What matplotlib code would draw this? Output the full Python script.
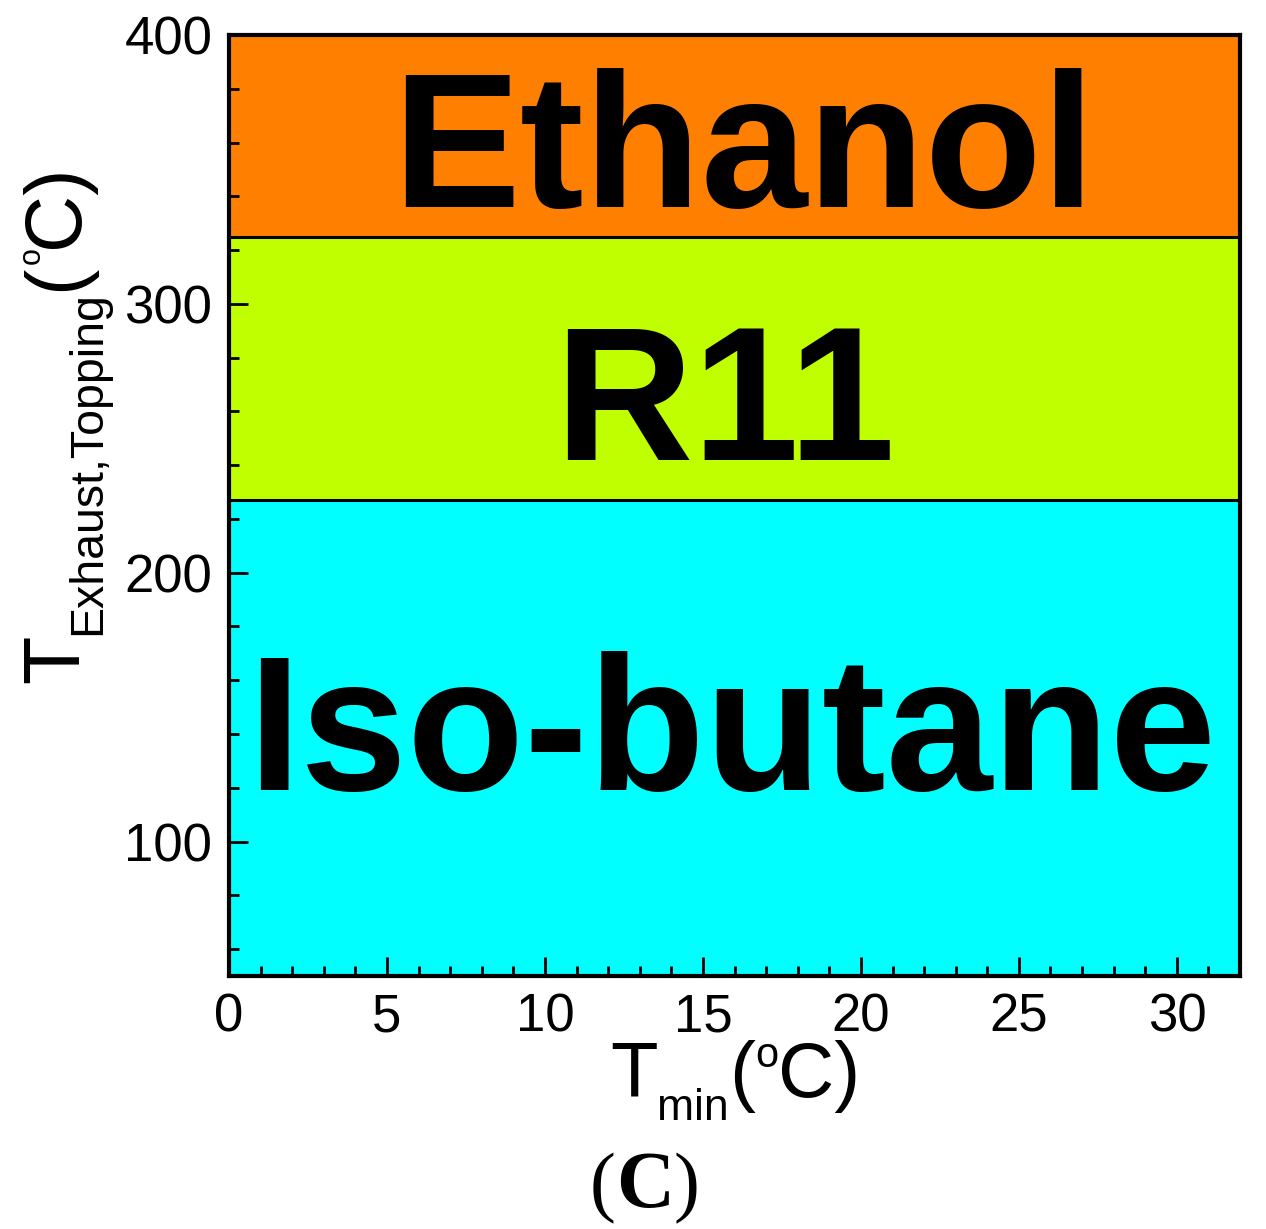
import numpy as np
import matplotlib
matplotlib.use('Agg')
from matplotlib import pyplot as plt
from matplotlib.ticker import MultipleLocator

plt.rcParams['font.family'] = ['Liberation Sans', 'DejaVu Sans']

# regions of best working fluid
fluids = ['Iso-butane', 'R11', 'Ethanol']
band_lo = [50, 227, 325]
band_hi = [227, 325, 400]
band_colors = ['#00FFFF', '#BFFF00', '#FF8000']
label_y = [119, 242, 336]
label_x = [15.9, 15.7, 16.3]

xmin, xmax = 0, 32
ymin, ymax = 50, 400

W, H = 1266, 1229
fig = plt.figure(figsize=(W / 100, H / 100), dpi=100)
ax = fig.add_axes([0.1809, 0.2059, 0.9795 - 0.1809, 0.9715 - 0.2059])

for lo, hi, c in zip(band_lo, band_hi, band_colors):
    ax.axhspan(lo, hi, color=c, zorder=0)
for b in band_lo[1:]:
    ax.axhline(b, color='black', lw=2.2, zorder=1)

for name, x, y in zip(fluids, label_x, label_y):
    ax.text(x, y, name, ha='center', va='baseline', fontsize=138,
            fontweight='bold', color='black')

ax.set_xlim(xmin, xmax)
ax.set_ylim(ymin, ymax)
ax.xaxis.set_major_locator(MultipleLocator(5))
ax.xaxis.set_minor_locator(MultipleLocator(1))
ax.yaxis.set_major_locator(MultipleLocator(100))
ax.yaxis.set_minor_locator(MultipleLocator(20))
ax.tick_params(which='both', direction='in', top=False, right=False,
               labelsize=38, width=2)
ax.tick_params(which='major', length=14, pad=12)
ax.tick_params(which='minor', length=7)
for s in ax.spines.values():
    s.set_linewidth(3)


def rich_text(x_px, y_px, pieces, rotation=0, **kw):
    # lay out text pieces one after another (sub/superscripts by shift in px)
    renderer = fig.canvas.get_renderer()
    pos = 0.0
    for piece in pieces:
        s, size, shift = piece[:3]
        extra = dict(kw)
        if len(piece) > 3:
            extra.update(piece[3])
        if rotation == 0:
            tx, ty = x_px + pos, y_px + shift
        else:
            tx, ty = x_px - shift, y_px + pos
        t = fig.text(tx / W, ty / H, s, fontsize=size, rotation=rotation,
                     rotation_mode='anchor', ha='left', va='baseline', **extra)
        bb = t.get_window_extent(renderer)
        pos += bb.width if rotation == 0 else bb.height


xlabel = [('T', 56, 0), ('min', 32, -23), ('(', 56, 0), ('o', 30, 30),
          ('C)', 56, 0)]
ylabel = [('T', 57, 0), ('Exhaust,Topping', 33.5, -22), ('(', 57, 0),
          ('o', 22, 38), ('C)', 57, 0)]
rich_text(610, H - 1097, xlabel)
rich_text(78, H - 683, ylabel, rotation=90)

panel = [('(', 56, 0), ('C', 58, 0, {'fontweight': 'bold'}), (')', 56, 0)]
rich_text(590, H - 1207, panel, family='Liberation Serif')

fig.savefig('out.png', dpi=100)
